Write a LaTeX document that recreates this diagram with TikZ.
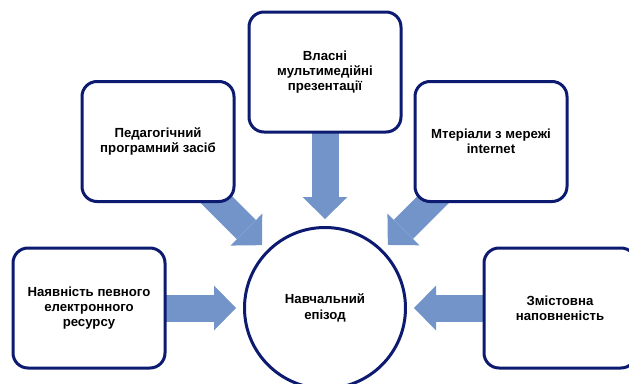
\documentclass[tikz,border=0pt]{standalone}
\usepackage{fontspec}
\setmainfont{Liberation Sans}
\usetikzlibrary{arrows.meta,backgrounds}
\definecolor{navy}{RGB}{12,26,112}
\definecolor{arrowblue}{RGB}{115,148,201}

\begin{document}
\begin{tikzpicture}[x=1pt,y=-1pt,
    srcbox/.style={draw=navy,line width=3pt,fill=white,rounded corners=15pt,
      minimum width=152pt,minimum height=120pt,align=center,
      font=\fontsize{13.2}{15}\selectfont\bfseries},
    episodecircle/.style={draw=navy,line width=3pt,fill=white,circle,
      minimum size=161pt,inner sep=0pt,align=center,
      font=\fontsize{13.2}{15.5}\selectfont\bfseries},
    bigarrow/.style={draw=arrowblue,line width=27pt,shorten >=7pt,
      -{Triangle[width=45pt,length=22pt,line width=0pt,fill=arrowblue]}}]
      \useasboundingbox (0,0) rectangle (629,383);
      \clip (0,0) rectangle (629,383);

      \node[srcbox] (resource) at (89,308) {Наявність певного\\електронного\\ресурсу};
      \node[srcbox] (software) at (158,141.5) {Педагогічний\\програмний засіб};
      \node[srcbox] (presentations) at (325,72) {Власні\\мультимедійні\\презентації};
      \node[srcbox] (internet) at (491,141.5) {Мтеріали з мережі\\internet};
      \node[srcbox] (content) at (560,308) {Змістовна\\наповненість};
      \node[episodecircle] (episode) at (325,308) {Навчальний\\епізод};

      \begin{scope}[on background layer]
        \draw[bigarrow] (resource.center) -- (episode);
        \draw[bigarrow] (software.center) -- (episode);
        \draw[bigarrow] (presentations.center) -- (episode);
        \draw[bigarrow] (internet.center) -- (episode);
        \draw[bigarrow] (content.center) -- (episode);
      \end{scope}
    \end{tikzpicture}
\end{document}
